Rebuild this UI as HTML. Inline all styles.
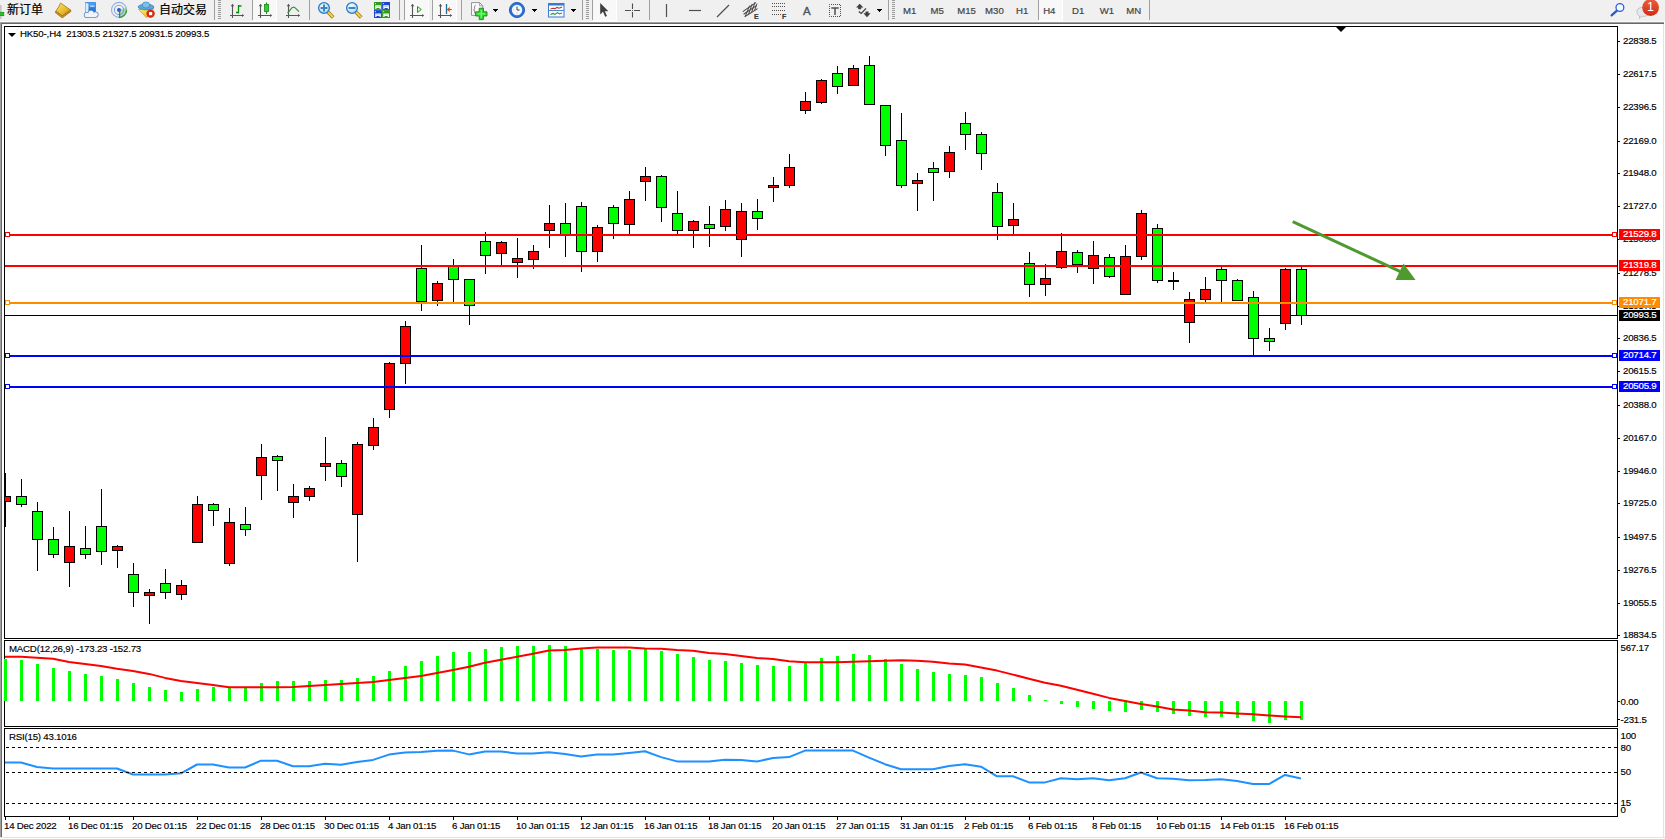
<!DOCTYPE html>
<html lang="zh"><head><meta charset="utf-8"><title>HK50-,H4</title>
<style>
html,body{margin:0;padding:0}
body{width:1665px;height:839px;overflow:hidden;background:#f0f0f0;position:relative;font-family:"Liberation Sans","Noto Sans CJK SC",sans-serif;font-size:9px;color:#000}
div,span{position:absolute;box-sizing:border-box}
.t{white-space:nowrap;line-height:10px;height:10px;font-size:9.7px;letter-spacing:-0.22px;-webkit-text-stroke:0.15px #000}
.w{width:1px;background:#000}
.cg{width:11px;background:#00ff00;border:1px solid #000}
.cr{width:11px;background:#ff0000;border:1px solid #000}
.m{width:3px;background:#00ff00}
.hl{left:5px;width:1612px;height:2px}
.sq{width:5px;height:5px;background:#fff}
.lb{left:1619px;width:41px;height:11px;color:#fff;font-size:9.2px;line-height:11px;padding-left:4px;white-space:nowrap;-webkit-text-stroke:0.2px #fff}
.tk{left:1618px;width:2px;height:1px;background:#000}
.ax{left:1623px}
.dash{left:6px;width:1611px;height:1px;background:repeating-linear-gradient(90deg,#000 0,#000 3px,transparent 3px,transparent 6px)}
.tb{font-size:9.6px;color:#444;line-height:12px;top:5px;white-space:nowrap;-webkit-text-stroke:0.2px #444}
.cn{font-size:12px;line-height:14px;color:#000;white-space:nowrap;top:2.5px;-webkit-text-stroke:0.2px #000}
.sep{top:0;width:1px;height:20px;background:#a0a0a0}
.grip{top:0;width:3px;height:19px;background:repeating-linear-gradient(180deg,#9a9a9a 0,#9a9a9a 1px,transparent 1px,transparent 2px)}
.hi{top:0;height:21px;background:#f8f8f8}
.dd{width:0;height:0;border-left:2.5px solid transparent;border-right:2.5px solid transparent;border-top:3px solid #000;top:9px}
svg{position:absolute;overflow:visible}
</style></head><body>

<div style="left:0;top:21px;width:1665px;height:1px;background:#fbfbfb"></div>
<div style="left:0;top:22px;width:1664px;height:817px;background:#a0a0a0"></div>
<div style="left:1px;top:23px;width:1663px;height:816px;background:#696969"></div>
<div style="left:1664px;top:21px;width:1px;height:818px;background:#fff"></div>
<div style="left:2px;top:24px;width:1662px;height:815px;background:#e3e3e3"></div>
<div style="left:0;top:838px;width:1665px;height:1px;background:#fff"></div>
<div style="left:0;top:837px;width:1665px;height:1px;background:#e3e3e3"></div>
<div id="white" style="left:2px;top:24px;width:1661px;height:813px;background:#fff"></div>
<div style="left:4px;top:26px;width:1614px;height:613px;border:1px solid #000"></div>
<div style="left:4px;top:640px;width:1614px;height:87px;border:1px solid #000"></div>
<div style="left:4px;top:728px;width:1614px;height:89px;border:1px solid #000"></div>
<div id="chart" style="left:5px;top:27px;width:1612px;height:611px;overflow:hidden">
<div style="left:0;top:288px;width:1612px;height:1px;background:#000"></div>
<div class="w" style="left:0px;top:446px;height:54px"></div>
<div class="cr" style="left:-5px;top:469px;height:6px"></div>
<div class="w" style="left:16px;top:452px;height:28px"></div>
<div class="cg" style="left:11px;top:469px;height:9px"></div>
<div class="w" style="left:32px;top:475px;height:69px"></div>
<div class="cg" style="left:27px;top:484px;height:29px"></div>
<div class="w" style="left:48px;top:500px;height:31px"></div>
<div class="cg" style="left:43px;top:512px;height:16px"></div>
<div class="w" style="left:64px;top:484px;height:76px"></div>
<div class="cr" style="left:59px;top:519px;height:17px"></div>
<div class="w" style="left:80px;top:499px;height:33px"></div>
<div class="cg" style="left:75px;top:521px;height:7px"></div>
<div class="w" style="left:96px;top:462px;height:76px"></div>
<div class="cg" style="left:91px;top:499px;height:26px"></div>
<div class="w" style="left:112px;top:518px;height:23px"></div>
<div class="cr" style="left:107px;top:519px;height:5px"></div>
<div class="w" style="left:128px;top:536px;height:44px"></div>
<div class="cg" style="left:123px;top:547px;height:19px"></div>
<div class="w" style="left:144px;top:562px;height:35px"></div>
<div class="cr" style="left:139px;top:565px;height:4px"></div>
<div class="w" style="left:160px;top:542px;height:30px"></div>
<div class="cg" style="left:155px;top:556px;height:10px"></div>
<div class="w" style="left:176px;top:553px;height:20px"></div>
<div class="cr" style="left:171px;top:558px;height:10px"></div>
<div class="w" style="left:192px;top:469px;height:47px"></div>
<div class="cr" style="left:187px;top:477px;height:39px"></div>
<div class="w" style="left:208px;top:476px;height:23px"></div>
<div class="cg" style="left:203px;top:477px;height:7px"></div>
<div class="w" style="left:224px;top:481px;height:58px"></div>
<div class="cr" style="left:219px;top:495px;height:42px"></div>
<div class="w" style="left:240px;top:480px;height:29px"></div>
<div class="cg" style="left:235px;top:497px;height:6px"></div>
<div class="w" style="left:256px;top:417px;height:56px"></div>
<div class="cr" style="left:251px;top:430px;height:19px"></div>
<div class="w" style="left:272px;top:428px;height:36px"></div>
<div class="cg" style="left:267px;top:429px;height:5px"></div>
<div class="w" style="left:288px;top:457px;height:34px"></div>
<div class="cr" style="left:283px;top:469px;height:7px"></div>
<div class="w" style="left:304px;top:459px;height:15px"></div>
<div class="cr" style="left:299px;top:461px;height:9px"></div>
<div class="w" style="left:320px;top:410px;height:44px"></div>
<div class="cr" style="left:315px;top:436px;height:4px"></div>
<div class="w" style="left:336px;top:433px;height:27px"></div>
<div class="cg" style="left:331px;top:436px;height:14px"></div>
<div class="w" style="left:352px;top:415px;height:120px"></div>
<div class="cr" style="left:347px;top:417px;height:71px"></div>
<div class="w" style="left:368px;top:391px;height:32px"></div>
<div class="cr" style="left:363px;top:400px;height:19px"></div>
<div class="w" style="left:384px;top:335px;height:56px"></div>
<div class="cr" style="left:379px;top:336px;height:47px"></div>
<div class="w" style="left:400px;top:294px;height:63px"></div>
<div class="cr" style="left:395px;top:299px;height:38px"></div>
<div class="w" style="left:416px;top:218px;height:66px"></div>
<div class="cg" style="left:411px;top:241px;height:34px"></div>
<div class="w" style="left:432px;top:254px;height:25px"></div>
<div class="cr" style="left:427px;top:256px;height:18px"></div>
<div class="w" style="left:448px;top:232px;height:43px"></div>
<div class="cg" style="left:443px;top:239px;height:14px"></div>
<div class="w" style="left:464px;top:252px;height:46px"></div>
<div class="cg" style="left:459px;top:252px;height:27px"></div>
<div class="w" style="left:480px;top:205px;height:42px"></div>
<div class="cg" style="left:475px;top:214px;height:15px"></div>
<div class="w" style="left:496px;top:214px;height:24px"></div>
<div class="cr" style="left:491px;top:215px;height:12px"></div>
<div class="w" style="left:512px;top:211px;height:40px"></div>
<div class="cr" style="left:507px;top:231px;height:5px"></div>
<div class="w" style="left:528px;top:218px;height:24px"></div>
<div class="cr" style="left:523px;top:224px;height:9px"></div>
<div class="w" style="left:544px;top:178px;height:43px"></div>
<div class="cr" style="left:539px;top:196px;height:8px"></div>
<div class="w" style="left:560px;top:176px;height:54px"></div>
<div class="cg" style="left:555px;top:196px;height:12px"></div>
<div class="w" style="left:576px;top:175px;height:70px"></div>
<div class="cg" style="left:571px;top:179px;height:46px"></div>
<div class="w" style="left:592px;top:198px;height:37px"></div>
<div class="cr" style="left:587px;top:200px;height:25px"></div>
<div class="w" style="left:608px;top:178px;height:34px"></div>
<div class="cg" style="left:603px;top:180px;height:17px"></div>
<div class="w" style="left:624px;top:164px;height:43px"></div>
<div class="cr" style="left:619px;top:172px;height:26px"></div>
<div class="w" style="left:640px;top:140px;height:34px"></div>
<div class="cr" style="left:635px;top:149px;height:6px"></div>
<div class="w" style="left:656px;top:148px;height:47px"></div>
<div class="cg" style="left:651px;top:149px;height:32px"></div>
<div class="w" style="left:672px;top:164px;height:43px"></div>
<div class="cg" style="left:667px;top:186px;height:18px"></div>
<div class="w" style="left:688px;top:193px;height:28px"></div>
<div class="cr" style="left:683px;top:194px;height:10px"></div>
<div class="w" style="left:704px;top:179px;height:41px"></div>
<div class="cg" style="left:699px;top:197px;height:5px"></div>
<div class="w" style="left:720px;top:173px;height:31px"></div>
<div class="cr" style="left:715px;top:182px;height:18px"></div>
<div class="w" style="left:736px;top:176px;height:54px"></div>
<div class="cr" style="left:731px;top:184px;height:29px"></div>
<div class="w" style="left:752px;top:172px;height:31px"></div>
<div class="cg" style="left:747px;top:184px;height:8px"></div>
<div class="w" style="left:768px;top:150px;height:25px"></div>
<div class="cr" style="left:763px;top:158px;height:3px"></div>
<div class="w" style="left:784px;top:127px;height:34px"></div>
<div class="cr" style="left:779px;top:140px;height:19px"></div>
<div class="w" style="left:800px;top:65px;height:22px"></div>
<div class="cr" style="left:795px;top:74px;height:10px"></div>
<div class="w" style="left:816px;top:52px;height:25px"></div>
<div class="cr" style="left:811px;top:53px;height:23px"></div>
<div class="w" style="left:832px;top:39px;height:28px"></div>
<div class="cg" style="left:827px;top:46px;height:14px"></div>
<div class="w" style="left:848px;top:38px;height:21px"></div>
<div class="cr" style="left:843px;top:41px;height:18px"></div>
<div class="w" style="left:864px;top:29px;height:49px"></div>
<div class="cg" style="left:859px;top:38px;height:40px"></div>
<div class="w" style="left:880px;top:78px;height:51px"></div>
<div class="cg" style="left:875px;top:78px;height:41px"></div>
<div class="w" style="left:896px;top:86px;height:75px"></div>
<div class="cg" style="left:891px;top:113px;height:46px"></div>
<div class="w" style="left:912px;top:146px;height:38px"></div>
<div class="cr" style="left:907px;top:153px;height:4px"></div>
<div class="w" style="left:928px;top:135px;height:39px"></div>
<div class="cg" style="left:923px;top:141px;height:5px"></div>
<div class="w" style="left:944px;top:119px;height:32px"></div>
<div class="cr" style="left:939px;top:125px;height:20px"></div>
<div class="w" style="left:960px;top:85px;height:38px"></div>
<div class="cg" style="left:955px;top:96px;height:12px"></div>
<div class="w" style="left:976px;top:105px;height:38px"></div>
<div class="cg" style="left:971px;top:107px;height:20px"></div>
<div class="w" style="left:992px;top:156px;height:57px"></div>
<div class="cg" style="left:987px;top:165px;height:35px"></div>
<div class="w" style="left:1008px;top:176px;height:31px"></div>
<div class="cr" style="left:1003px;top:192px;height:7px"></div>
<div class="w" style="left:1024px;top:225px;height:45px"></div>
<div class="cg" style="left:1019px;top:236px;height:22px"></div>
<div class="w" style="left:1040px;top:237px;height:32px"></div>
<div class="cr" style="left:1035px;top:251px;height:7px"></div>
<div class="w" style="left:1056px;top:206px;height:36px"></div>
<div class="cr" style="left:1051px;top:224px;height:17px"></div>
<div class="w" style="left:1072px;top:223px;height:23px"></div>
<div class="cg" style="left:1067px;top:225px;height:13px"></div>
<div class="w" style="left:1088px;top:214px;height:43px"></div>
<div class="cr" style="left:1083px;top:228px;height:14px"></div>
<div class="w" style="left:1104px;top:227px;height:24px"></div>
<div class="cg" style="left:1099px;top:230px;height:20px"></div>
<div class="w" style="left:1120px;top:218px;height:50px"></div>
<div class="cr" style="left:1115px;top:229px;height:39px"></div>
<div class="w" style="left:1136px;top:183px;height:50px"></div>
<div class="cr" style="left:1131px;top:186px;height:44px"></div>
<div class="w" style="left:1152px;top:197px;height:59px"></div>
<div class="cg" style="left:1147px;top:201px;height:53px"></div>
<div class="w" style="left:1168px;top:245px;height:18px"></div>
<div style="left:1163px;top:253px;width:11px;height:2px;background:#000"></div>
<div class="w" style="left:1184px;top:265px;height:51px"></div>
<div class="cr" style="left:1179px;top:272px;height:24px"></div>
<div class="w" style="left:1200px;top:250px;height:25px"></div>
<div class="cr" style="left:1195px;top:262px;height:11px"></div>
<div class="w" style="left:1216px;top:240px;height:35px"></div>
<div class="cg" style="left:1211px;top:242px;height:12px"></div>
<div class="w" style="left:1232px;top:252px;height:22px"></div>
<div class="cg" style="left:1227px;top:253px;height:21px"></div>
<div class="w" style="left:1248px;top:264px;height:64px"></div>
<div class="cg" style="left:1243px;top:270px;height:42px"></div>
<div class="w" style="left:1264px;top:301px;height:23px"></div>
<div class="cg" style="left:1259px;top:311px;height:4px"></div>
<div class="w" style="left:1280px;top:241px;height:62px"></div>
<div class="cr" style="left:1275px;top:242px;height:55px"></div>
<div class="w" style="left:1296px;top:240px;height:58px"></div>
<div class="cg" style="left:1291px;top:242px;height:47px"></div>
</div>
<div style="left:1336px;top:27px;width:0;height:0;border-left:5px solid transparent;border-right:5px solid transparent;border-top:5px solid #000"></div>
<div class="hl" style="top:234px;background:#ff0000"></div>
<div class="sq" style="left:5px;top:232px;border:1px solid #ff0000;outline:0"></div>
<div class="sq" style="left:1612px;top:232px;border:1px solid #ff0000"></div>
<div class="hl" style="top:265px;background:#ff0000"></div>
<div class="hl" style="top:302px;background:#ff8c00"></div>
<div class="sq" style="left:5px;top:300px;border:1px solid #ff8c00;outline:0"></div>
<div class="sq" style="left:1612px;top:300px;border:1px solid #ff8c00"></div>
<div class="hl" style="top:355px;background:#0000ff"></div>
<div class="sq" style="left:5px;top:353px;border:1px solid #0000ff;outline:0"></div>
<div class="sq" style="left:1612px;top:353px;border:1px solid #0000ff"></div>
<div class="hl" style="top:386px;background:#0000ff"></div>
<div class="sq" style="left:5px;top:384px;border:1px solid #0000ff;outline:0"></div>
<div class="sq" style="left:1612px;top:384px;border:1px solid #0000ff"></div>
<svg width="1665" height="839" style="left:0;top:0"><line x1="1292.7" y1="221.6" x2="1402" y2="272.4" stroke="#4e9a2e" stroke-width="3"/><polygon points="1403.5,263.5 1395.5,280 1415.6,280" fill="#4e9a2e"/></svg>
<div class="tk" style="top:41px"></div>
<div class="t ax" style="top:36px">22838.5</div>
<div class="tk" style="top:74px"></div>
<div class="t ax" style="top:69px">22617.5</div>
<div class="tk" style="top:107px"></div>
<div class="t ax" style="top:102px">22396.5</div>
<div class="tk" style="top:141px"></div>
<div class="t ax" style="top:136px">22169.0</div>
<div class="tk" style="top:173px"></div>
<div class="t ax" style="top:168px">21948.0</div>
<div class="tk" style="top:206px"></div>
<div class="t ax" style="top:201px">21727.0</div>
<div class="tk" style="top:239px"></div>
<div class="t ax" style="top:234px">21506.0</div>
<div class="tk" style="top:273px"></div>
<div class="t ax" style="top:268px">21278.5</div>
<div class="tk" style="top:306px"></div>
<div class="t ax" style="top:301px">21057.5</div>
<div class="tk" style="top:338px"></div>
<div class="t ax" style="top:333px">20836.5</div>
<div class="tk" style="top:371px"></div>
<div class="t ax" style="top:366px">20615.5</div>
<div class="tk" style="top:405px"></div>
<div class="t ax" style="top:400px">20388.0</div>
<div class="tk" style="top:438px"></div>
<div class="t ax" style="top:433px">20167.0</div>
<div class="tk" style="top:471px"></div>
<div class="t ax" style="top:466px">19946.0</div>
<div class="tk" style="top:503px"></div>
<div class="t ax" style="top:498px">19725.0</div>
<div class="tk" style="top:537px"></div>
<div class="t ax" style="top:532px">19497.5</div>
<div class="tk" style="top:570px"></div>
<div class="t ax" style="top:565px">19276.5</div>
<div class="tk" style="top:603px"></div>
<div class="t ax" style="top:598px">19055.5</div>
<div class="tk" style="top:635px"></div>
<div class="t ax" style="top:630px">18834.5</div>
<div class="lb" style="top:229px;background:#ff0000"><span class="t" style="left:4px;top:0;color:#fff;-webkit-text-stroke:0.2px #fff">21529.8</span></div>
<div class="lb" style="top:260px;background:#ff0000"><span class="t" style="left:4px;top:0;color:#fff;-webkit-text-stroke:0.2px #fff">21319.8</span></div>
<div class="lb" style="top:297px;background:#ff8c00"><span class="t" style="left:4px;top:0;color:#fff;-webkit-text-stroke:0.2px #fff">21071.7</span></div>
<div class="lb" style="top:350px;background:#0000ff"><span class="t" style="left:4px;top:0;color:#fff;-webkit-text-stroke:0.2px #fff">20714.7</span></div>
<div class="lb" style="top:381px;background:#0000ff"><span class="t" style="left:4px;top:0;color:#fff;-webkit-text-stroke:0.2px #fff">20505.9</span></div>
<div class="lb" style="top:310px;background:#000"><span class="t" style="left:4px;top:0;color:#fff;-webkit-text-stroke:0.2px #fff">20993.5</span></div>
<div style="left:8px;top:33px;width:0;height:0;border-left:4px solid transparent;border-right:4px solid transparent;border-top:4px solid #000"></div>
<div class="t" style="left:20px;top:29px;letter-spacing:-0.17px">HK50-,H4&nbsp; 21303.5 21327.5 20931.5 20993.5</div>
<div class="m" style="left:4px;top:659px;height:42px"></div>
<div class="m" style="left:20px;top:660px;height:41px"></div>
<div class="m" style="left:36px;top:664px;height:37px"></div>
<div class="m" style="left:52px;top:668px;height:33px"></div>
<div class="m" style="left:68px;top:671px;height:30px"></div>
<div class="m" style="left:84px;top:674px;height:27px"></div>
<div class="m" style="left:100px;top:676px;height:25px"></div>
<div class="m" style="left:116px;top:679px;height:22px"></div>
<div class="m" style="left:132px;top:683px;height:18px"></div>
<div class="m" style="left:148px;top:687px;height:14px"></div>
<div class="m" style="left:164px;top:690px;height:11px"></div>
<div class="m" style="left:180px;top:692px;height:9px"></div>
<div class="m" style="left:196px;top:689px;height:12px"></div>
<div class="m" style="left:212px;top:687px;height:14px"></div>
<div class="m" style="left:228px;top:687px;height:14px"></div>
<div class="m" style="left:244px;top:687px;height:14px"></div>
<div class="m" style="left:260px;top:683px;height:18px"></div>
<div class="m" style="left:276px;top:681px;height:20px"></div>
<div class="m" style="left:292px;top:681px;height:20px"></div>
<div class="m" style="left:308px;top:681px;height:20px"></div>
<div class="m" style="left:324px;top:680px;height:21px"></div>
<div class="m" style="left:340px;top:680px;height:21px"></div>
<div class="m" style="left:356px;top:678px;height:23px"></div>
<div class="m" style="left:372px;top:676px;height:25px"></div>
<div class="m" style="left:388px;top:671px;height:30px"></div>
<div class="m" style="left:404px;top:666px;height:35px"></div>
<div class="m" style="left:420px;top:661px;height:40px"></div>
<div class="m" style="left:436px;top:656px;height:45px"></div>
<div class="m" style="left:452px;top:652px;height:49px"></div>
<div class="m" style="left:468px;top:652px;height:49px"></div>
<div class="m" style="left:484px;top:649px;height:52px"></div>
<div class="m" style="left:500px;top:647px;height:54px"></div>
<div class="m" style="left:516px;top:646px;height:55px"></div>
<div class="m" style="left:532px;top:646px;height:55px"></div>
<div class="m" style="left:548px;top:645px;height:56px"></div>
<div class="m" style="left:564px;top:646px;height:55px"></div>
<div class="m" style="left:580px;top:648px;height:53px"></div>
<div class="m" style="left:596px;top:649px;height:52px"></div>
<div class="m" style="left:612px;top:650px;height:51px"></div>
<div class="m" style="left:628px;top:650px;height:51px"></div>
<div class="m" style="left:644px;top:648px;height:53px"></div>
<div class="m" style="left:660px;top:651px;height:50px"></div>
<div class="m" style="left:676px;top:654px;height:47px"></div>
<div class="m" style="left:692px;top:657px;height:44px"></div>
<div class="m" style="left:708px;top:660px;height:41px"></div>
<div class="m" style="left:724px;top:661px;height:40px"></div>
<div class="m" style="left:740px;top:663px;height:38px"></div>
<div class="m" style="left:756px;top:665px;height:36px"></div>
<div class="m" style="left:772px;top:666px;height:35px"></div>
<div class="m" style="left:788px;top:666px;height:35px"></div>
<div class="m" style="left:804px;top:662px;height:39px"></div>
<div class="m" style="left:820px;top:658px;height:43px"></div>
<div class="m" style="left:836px;top:656px;height:45px"></div>
<div class="m" style="left:852px;top:654px;height:47px"></div>
<div class="m" style="left:868px;top:655px;height:46px"></div>
<div class="m" style="left:884px;top:659px;height:42px"></div>
<div class="m" style="left:900px;top:664px;height:37px"></div>
<div class="m" style="left:916px;top:669px;height:32px"></div>
<div class="m" style="left:932px;top:672px;height:29px"></div>
<div class="m" style="left:948px;top:674px;height:27px"></div>
<div class="m" style="left:964px;top:675px;height:26px"></div>
<div class="m" style="left:980px;top:677px;height:24px"></div>
<div class="m" style="left:996px;top:683px;height:18px"></div>
<div class="m" style="left:1012px;top:688px;height:13px"></div>
<div class="m" style="left:1028px;top:695px;height:6px"></div>
<div class="m" style="left:1044px;top:700px;height:1px"></div>
<div class="m" style="left:1060px;top:701px;height:3px"></div>
<div class="m" style="left:1076px;top:701px;height:6px"></div>
<div class="m" style="left:1092px;top:701px;height:8px"></div>
<div class="m" style="left:1108px;top:701px;height:10px"></div>
<div class="m" style="left:1124px;top:701px;height:11px"></div>
<div class="m" style="left:1140px;top:701px;height:9px"></div>
<div class="m" style="left:1156px;top:701px;height:11px"></div>
<div class="m" style="left:1172px;top:701px;height:13px"></div>
<div class="m" style="left:1188px;top:701px;height:15px"></div>
<div class="m" style="left:1204px;top:701px;height:16px"></div>
<div class="m" style="left:1220px;top:701px;height:16px"></div>
<div class="m" style="left:1236px;top:701px;height:17px"></div>
<div class="m" style="left:1252px;top:701px;height:20px"></div>
<div class="m" style="left:1268px;top:701px;height:22px"></div>
<div class="m" style="left:1284px;top:701px;height:19px"></div>
<div class="m" style="left:1300px;top:701px;height:19px"></div>
<svg width="1665" height="839" style="left:0;top:0"><polyline points="5,656.7 21,656.7 37,657.7 53,658.8 69,662.0 85,664.1 101,666.1 117,668.8 133,670.9 149,673.9 165,677.9 181,681.0 197,683.0 213,685.0 229,687.3 245,687.3 261,687.3 277,687.3 293,687.0 309,686.0 325,685.0 341,684.0 357,683.0 373,682.0 389,679.9 405,677.9 421,675.9 437,672.9 453,669.9 469,666.8 485,662.8 501,659.8 517,656.7 533,653.7 549,650.4 565,649.9 581,648.4 597,647.4 613,647.4 629,647.4 645,648.4 661,648.7 677,649.9 693,650.7 709,653.0 725,654.0 741,656.0 757,658.0 773,659.0 789,661.3 805,662.3 821,662.3 837,662.3 853,661.8 869,661.3 885,660.8 901,660.3 917,660.8 933,661.8 949,663.5 965,664.6 981,667.6 997,670.6 1013,674.6 1029,678.7 1045,682.7 1061,685.7 1077,689.8 1093,693.8 1109,697.9 1125,700.9 1141,703.9 1157,706.4 1173,709.5 1189,710.5 1205,712.2 1221,712.6 1237,713.4 1253,714.3 1269,715.4 1285,716.5 1301,717.3" fill="none" stroke="#ff0000" stroke-width="2" stroke-linejoin="round"/>
<polyline points="5,762.5 21,762.5 37,767.0 53,768.5 69,768.5 85,768.5 101,768.5 117,768.5 133,774.5 149,774.5 165,774.5 181,773.3 197,764.5 213,764.5 229,767.5 245,767.5 261,760.7 277,760.7 293,766.2 309,766.2 325,763.7 341,764.7 357,761.9 373,759.9 389,754.6 405,752.6 421,752.1 437,750.8 453,750.6 469,754.4 485,751.6 501,751.6 517,753.4 533,753.4 549,752.3 565,754.1 581,756.4 597,754.6 613,754.4 629,752.9 645,751.3 661,757.1 677,761.4 693,761.4 709,761.4 725,759.7 741,759.9 757,761.4 773,758.1 789,757.1 805,750.6 821,750.6 837,750.6 853,750.6 869,757.6 885,764.2 901,769.2 917,769.2 933,769.2 949,766.0 965,764.2 981,766.7 997,776.3 1013,776.3 1029,782.4 1045,782.4 1061,778.3 1077,779.3 1093,778.3 1109,780.3 1125,778.3 1141,772.5 1157,778.3 1173,778.8 1189,780.3 1205,780.1 1221,779.3 1237,781.0 1253,784.1 1269,784.1 1285,774.9 1301,778.5" fill="none" stroke="#1e90ff" stroke-width="2" stroke-linejoin="round"/></svg>
<div class="t" style="left:9px;top:644px">MACD(12,26,9) -173.23 -152.73</div>
<div class="t" style="left:9px;top:732px">RSI(15) 43.1016</div>
<div class="dash" style="top:747px"></div>
<div class="dash" style="top:772px"></div>
<div class="dash" style="top:803px"></div>
<div class="t" style="left:1620.5px;top:643px">567.17</div>
<div class="t" style="left:1620.5px;top:697px">0.00</div>
<div class="t" style="left:1620.5px;top:715px">-231.5</div>
<div class="t" style="left:1620.5px;top:731px">100</div>
<div class="t" style="left:1620.5px;top:743px">80</div>
<div class="t" style="left:1620.5px;top:767px">50</div>
<div class="t" style="left:1620.5px;top:798px">15</div>
<div class="t" style="left:1620.5px;top:805px">0</div>
<div class="tk" style="top:701px"></div>
<div class="tk" style="top:719px"></div>
<div style="left:5px;top:817px;width:1px;height:3px;background:#000"></div>
<div class="t" style="left:4px;top:821px">14 Dec 2022</div>
<div style="left:69px;top:817px;width:1px;height:3px;background:#000"></div>
<div class="t" style="left:68px;top:821px">16 Dec 01:15</div>
<div style="left:133px;top:817px;width:1px;height:3px;background:#000"></div>
<div class="t" style="left:132px;top:821px">20 Dec 01:15</div>
<div style="left:197px;top:817px;width:1px;height:3px;background:#000"></div>
<div class="t" style="left:196px;top:821px">22 Dec 01:15</div>
<div style="left:261px;top:817px;width:1px;height:3px;background:#000"></div>
<div class="t" style="left:260px;top:821px">28 Dec 01:15</div>
<div style="left:325px;top:817px;width:1px;height:3px;background:#000"></div>
<div class="t" style="left:324px;top:821px">30 Dec 01:15</div>
<div style="left:389px;top:817px;width:1px;height:3px;background:#000"></div>
<div class="t" style="left:388px;top:821px">4 Jan 01:15</div>
<div style="left:453px;top:817px;width:1px;height:3px;background:#000"></div>
<div class="t" style="left:452px;top:821px">6 Jan 01:15</div>
<div style="left:517px;top:817px;width:1px;height:3px;background:#000"></div>
<div class="t" style="left:516px;top:821px">10 Jan 01:15</div>
<div style="left:581px;top:817px;width:1px;height:3px;background:#000"></div>
<div class="t" style="left:580px;top:821px">12 Jan 01:15</div>
<div style="left:645px;top:817px;width:1px;height:3px;background:#000"></div>
<div class="t" style="left:644px;top:821px">16 Jan 01:15</div>
<div style="left:709px;top:817px;width:1px;height:3px;background:#000"></div>
<div class="t" style="left:708px;top:821px">18 Jan 01:15</div>
<div style="left:773px;top:817px;width:1px;height:3px;background:#000"></div>
<div class="t" style="left:772px;top:821px">20 Jan 01:15</div>
<div style="left:837px;top:817px;width:1px;height:3px;background:#000"></div>
<div class="t" style="left:836px;top:821px">27 Jan 01:15</div>
<div style="left:901px;top:817px;width:1px;height:3px;background:#000"></div>
<div class="t" style="left:900px;top:821px">31 Jan 01:15</div>
<div style="left:965px;top:817px;width:1px;height:3px;background:#000"></div>
<div class="t" style="left:964px;top:821px">2 Feb 01:15</div>
<div style="left:1029px;top:817px;width:1px;height:3px;background:#000"></div>
<div class="t" style="left:1028px;top:821px">6 Feb 01:15</div>
<div style="left:1093px;top:817px;width:1px;height:3px;background:#000"></div>
<div class="t" style="left:1092px;top:821px">8 Feb 01:15</div>
<div style="left:1157px;top:817px;width:1px;height:3px;background:#000"></div>
<div class="t" style="left:1156px;top:821px">10 Feb 01:15</div>
<div style="left:1221px;top:817px;width:1px;height:3px;background:#000"></div>
<div class="t" style="left:1220px;top:821px">14 Feb 01:15</div>
<div style="left:1285px;top:817px;width:1px;height:3px;background:#000"></div>
<div class="t" style="left:1284px;top:821px">16 Feb 01:15</div>
<div class="hi" style="left:253px;width:24px;border-right:1px solid #fff;border-bottom:1px solid #fff"></div>
<div class="hi" style="left:405px;width:24px;border-right:1px solid #fff;border-bottom:1px solid #fff"></div>
<div class="hi" style="left:433px;width:24px;border-right:1px solid #fff;border-bottom:1px solid #fff"></div>
<div class="hi" style="left:593px;width:24px;border-right:1px solid #fff;border-bottom:1px solid #fff"></div>
<div class="hi" style="left:1039px;width:24px;border-right:1px solid #fff;border-bottom:1px solid #fff"></div>
<div class="sep" style="left:214px"></div>
<div class="sep" style="left:252px"></div>
<div class="sep" style="left:309px"></div>
<div class="sep" style="left:399px"></div>
<div class="sep" style="left:404px"></div>
<div class="sep" style="left:432px"></div>
<div class="sep" style="left:461px"></div>
<div class="sep" style="left:582px"></div>
<div class="sep" style="left:592px"></div>
<div class="sep" style="left:649px"></div>
<div class="sep" style="left:888px"></div>
<div class="sep" style="left:1038px"></div>
<div class="sep" style="left:1149px"></div>
<div class="grip" style="left:218px"></div>
<div class="grip" style="left:586px"></div>
<div class="grip" style="left:892px"></div>
<div class="cn" style="left:7px">新订单</div>
<div class="cn" style="left:159px">自动交易</div>
<div class="tb" style="left:903.0px">M1</div>
<div class="tb" style="left:930.5px">M5</div>
<div class="tb" style="left:957.3px">M15</div>
<div class="tb" style="left:985.1px">M30</div>
<div class="tb" style="left:1016.1px">H1</div>
<div class="tb" style="left:1043.2px">H4</div>
<div class="tb" style="left:1072.0px">D1</div>
<div class="tb" style="left:1099.8px">W1</div>
<div class="tb" style="left:1126.2px">MN</div>
<svg width="1665" height="24" viewBox="0 0 1665 24" style="left:0;top:0"><defs><linearGradient id="gold" x1="0" y1="0" x2="1" y2="1"><stop offset="0" stop-color="#fbe36a"/><stop offset="0.6" stop-color="#e8b82a"/><stop offset="1" stop-color="#b87a14"/></linearGradient><linearGradient id="blu" x1="0" y1="0" x2="0" y2="1"><stop offset="0" stop-color="#4aa8ff"/><stop offset="1" stop-color="#1460c8"/></linearGradient><radialGradient id="lens" cx="0.4" cy="0.35" r="0.7"><stop offset="0" stop-color="#f4fbff"/><stop offset="1" stop-color="#a8d4f0"/></radialGradient><linearGradient id="redg" x1="0" y1="0" x2="0" y2="1"><stop offset="0" stop-color="#e8603c"/><stop offset="1" stop-color="#d42a14"/></linearGradient><linearGradient id="ylw" x1="0" y1="0" x2="0.6" y2="1"><stop offset="0" stop-color="#fff27a"/><stop offset="1" stop-color="#f0b41c"/></linearGradient></defs><g shape-rendering="crispEdges" fill="#000"><rect x="493" y="9" width="5" height="1"/><rect x="494" y="10" width="3" height="1"/><rect x="495" y="11" width="1" height="1"/></g><g shape-rendering="crispEdges" fill="#000"><rect x="532" y="9" width="5" height="1"/><rect x="533" y="10" width="3" height="1"/><rect x="534" y="11" width="1" height="1"/></g><g shape-rendering="crispEdges" fill="#000"><rect x="571" y="9" width="5" height="1"/><rect x="572" y="10" width="3" height="1"/><rect x="573" y="11" width="1" height="1"/></g><g shape-rendering="crispEdges" fill="#000"><rect x="877" y="9" width="5" height="1"/><rect x="878" y="10" width="3" height="1"/><rect x="879" y="11" width="1" height="1"/></g><rect x="0" y="5" width="1.6" height="14" fill="#c4c4c4"/><rect x="-1" y="12.3" width="4.8" height="3.4" fill="#22c822" stroke="#168a16" stroke-width="0.7"/><path d="M55.2,12.4 L62.2,17.9 L71,11.4 L70.6,10 L62.2,15.6 L56,10.8 Z" fill="#c89228" stroke="#9a6a14" stroke-width="0.7" stroke-linejoin="round"/><path d="M56,10.8 C58,8.5 59.5,5.5 60.6,3 L70.6,10 L62.2,15.8 Z" fill="url(#gold)" stroke="#a8721a" stroke-width="0.8" stroke-linejoin="round"/><rect x="85.5" y="2.5" width="10" height="10" fill="url(#blu)" stroke="#1a6ad0" stroke-width="0.6"/><polygon points="85.5,2.5 88.5,4 88.5,13 85.5,12.5" fill="#d8ecff"/><rect x="90" y="5.5" width="4.5" height="1.2" fill="#d8ecff"/><g fill="#6c8cc4"><circle cx="86.8" cy="14.9" r="3"/><circle cx="91" cy="13.4" r="3.5"/><circle cx="95.4" cy="14.6" r="3.2"/><rect x="86" y="14" width="10" height="3.9"/></g><g fill="#f0f4fb"><circle cx="86.8" cy="14.9" r="2.2"/><circle cx="91" cy="13.4" r="2.7"/><circle cx="95.4" cy="14.6" r="2.4"/><rect x="86.4" y="14" width="9.4" height="3.1"/></g><path d="M119,9.9 L119,17.7 A7.8,7.8 0 0 0 126.6,7.6 Z" fill="#4aa84a" opacity="0.38"/><circle cx="119" cy="9.9" r="7.5" fill="none" stroke="#6e96e0" stroke-width="1.1" opacity="0.7"/><circle cx="119" cy="9.9" r="4.6" fill="none" stroke="#5a86dc" stroke-width="1.1" opacity="0.75"/><path d="M119,17.4 A7.5,7.5 0 0 0 126.5,9.9" fill="none" stroke="#3a983a" stroke-width="1.5" opacity="0.9"/><circle cx="119" cy="9.9" r="2" fill="#2a5ad0"/><rect x="118.9" y="10.4" width="1.3" height="7.5" fill="#1ea01e"/><polygon points="138.5,9.4 153.8,8.6 146.5,17.7" fill="url(#ylw)" stroke="#d49a18" stroke-width="0.7"/><ellipse cx="146" cy="7" rx="7.9" ry="2.8" fill="#5aa8dc" stroke="#2a78b8" stroke-width="0.7"/><ellipse cx="146" cy="5" rx="3.8" ry="3" fill="#7cc0ea" stroke="#2a78b8" stroke-width="0.6"/><circle cx="150.6" cy="13.6" r="4.2" fill="#d42a14"/><rect x="149" y="12" width="3.2" height="3.2" fill="#fff"/><path d="M232.5,4.4 V18 M230,15.5 H243.4" fill="none" stroke="#555" stroke-width="1.1"/><polygon points="232.5,3.8 234.3,6.2 230.7,6.2" fill="#555"/><polygon points="244.2,15.5 242,17.1 242,13.9" fill="#555"/><path d="M238.5,5 V13.5 M238.5,6 H241.5 M236,12.5 H238.5" fill="none" stroke="#0a8a0a" stroke-width="1.3"/><path d="M260.5,4.4 V18 M258,15.5 H271.4" fill="none" stroke="#555" stroke-width="1.1"/><polygon points="260.5,3.8 262.3,6.2 258.7,6.2" fill="#555"/><polygon points="272.2,15.5 270,17.1 270,13.9" fill="#555"/><path d="M266.5,2.5 V14" stroke="#1a8a1a" stroke-width="1.1"/><rect x="264.5" y="4.5" width="4" height="7" fill="#30d030" stroke="#1a8a1a" stroke-width="0.8"/><path d="M288.5,4.4 V18 M286,15.5 H299.4" fill="none" stroke="#555" stroke-width="1.1"/><polygon points="288.5,3.8 290.3,6.2 286.7,6.2" fill="#555"/><polygon points="300.2,15.5 298,17.1 298,13.9" fill="#555"/><path d="M287.5,12.8 C290,11.5 291,7.2 293.5,7.2 C295.5,7.2 297,10 299,11.5" fill="none" stroke="#2a9a2a" stroke-width="1.2"/><path d="M327.9,11.9 L333.2,17.4" stroke="#a87818" stroke-width="3.6" stroke-linecap="butt"/><path d="M327.9,11.9 L332.9,17.1" stroke="#f0d848" stroke-width="2" stroke-linecap="butt"/><circle cx="324" cy="8" r="5.4" fill="url(#lens)" stroke="#2a7ac8" stroke-width="1.3"/><path d="M320.6,8 H327.4 M324,4.6 V11.4" stroke="#3a86b8" stroke-width="2"/><path d="M355.9,11.9 L361.2,17.4" stroke="#a87818" stroke-width="3.6" stroke-linecap="butt"/><path d="M355.9,11.9 L360.9,17.1" stroke="#f0d848" stroke-width="2" stroke-linecap="butt"/><circle cx="352" cy="8" r="5.4" fill="url(#lens)" stroke="#2a7ac8" stroke-width="1.3"/><path d="M348.6,8 H355.4" stroke="#3a86b8" stroke-width="2"/><rect x="374" y="2" width="7.9" height="7.9" fill="#2e9a1e"/><path d="M375.2,9 V5.3 H380.8 V9 H379.6 V8 H376.4 V9 Z" fill="#fff"/><rect x="376.2" y="6.3" width="3.6" height="0.8" fill="#a8e090"/><rect x="375" y="3.1" width="1" height="1" fill="#fff" opacity="0.85"/><rect x="382.1" y="2" width="7.9" height="7.9" fill="#1848d0"/><path d="M383.3,9 V5.3 H388.90000000000003 V9 H387.70000000000005 V8 H384.5 V9 Z" fill="#fff"/><rect x="384.3" y="6.3" width="3.6" height="0.8" fill="#a0b8f8"/><rect x="383.1" y="3.1" width="1" height="1" fill="#fff" opacity="0.85"/><rect x="374" y="10.1" width="7.9" height="7.9" fill="#1848d0"/><path d="M375.2,17.1 V13.399999999999999 H380.8 V17.1 H379.6 V16.1 H376.4 V17.1 Z" fill="#fff"/><rect x="376.2" y="14.399999999999999" width="3.6" height="0.8" fill="#a0b8f8"/><rect x="375" y="11.2" width="1" height="1" fill="#fff" opacity="0.85"/><rect x="382.1" y="10.1" width="7.9" height="7.9" fill="#2e9a1e"/><path d="M383.3,17.1 V13.399999999999999 H388.90000000000003 V17.1 H387.70000000000005 V16.1 H384.5 V17.1 Z" fill="#fff"/><rect x="384.3" y="14.399999999999999" width="3.6" height="0.8" fill="#a8e090"/><rect x="383.1" y="11.2" width="1" height="1" fill="#fff" opacity="0.85"/><path d="M412.5,4.4 V18 M410,15.5 H423.4" fill="none" stroke="#555" stroke-width="1.1"/><polygon points="412.5,3.8 414.3,6.2 410.7,6.2" fill="#555"/><polygon points="424.2,15.5 422,17.1 422,13.9" fill="#555"/><polygon points="417.5,6.5 417.5,12.5 421.3,9.5" fill="#d8f4d8" stroke="#1ea01e" stroke-width="1"/><path d="M440.5,4.4 V18 M438,15.5 H451.4" fill="none" stroke="#555" stroke-width="1.1"/><polygon points="440.5,3.8 442.3,6.2 438.7,6.2" fill="#555"/><polygon points="452.2,15.5 450,17.1 450,13.9" fill="#555"/><path d="M446.5,4 V14" stroke="#1a6a9a" stroke-width="1.3"/><path d="M451.8,9.5 H448 M449.8,7.6 L447.6,9.5 L449.8,11.4" fill="none" stroke="#d84a10" stroke-width="1.2"/><path d="M471.5,2.6 H479.6 L482.8,5.8 V15.4 H471.5 Z" fill="#fafafa" stroke="#8a8a8a" stroke-width="0.9"/><path d="M479.6,2.6 V5.8 H482.8" fill="none" stroke="#8a8a8a" stroke-width="0.8"/><path d="M475.6,5.4 C474.2,5.6 474.6,8 474.6,8.8 C474.6,9.6 473.6,9.8 473.6,9.8 C473.6,9.8 474.6,10 474.6,10.8 C474.6,12 474.2,13.6 475.6,13.8" stroke="#6a6a5a" stroke-width="0.8" fill="none"/><path d="M479.2,8.2 H483.4 V11.8 H487 V16 H483.4 V19.6 H479.2 V16 H475.6 V11.8 H479.2 Z" fill="#30dc30" stroke="#0c7c0c" stroke-width="0.8" stroke-linejoin="miter"/><path d="M480.6,10 H482 V13.2 H485.2 V14.6 H482 V17.8 H480.6 V14.6 H477.4 V13.2 H480.6 Z" fill="#8cf88c" opacity="0.8"/><circle cx="517" cy="10" r="7.6" fill="#2a72d8" stroke="#1a4aa8" stroke-width="0.8"/><circle cx="517" cy="10" r="5.2" fill="#f4f8ff"/><path d="M517,6.5 V10 H519.6" fill="none" stroke="#404040" stroke-width="1"/><path d="M517,12.6 V13.6 M513.4,10 H514.2" stroke="#7a9ad0" stroke-width="0.8"/><rect x="548.5" y="3.5" width="15.5" height="13.5" fill="#f8fbff" stroke="#3a7ad0" stroke-width="1"/><rect x="548.5" y="3.5" width="15.5" height="2" fill="#3a7ad0"/><path d="M548.5,10.5 H564" stroke="#3a7ad0" stroke-width="0.9"/><path d="M550.5,9 L553,8.2 L555,8.6 L557,7.4 L559,8.2 L562,7" fill="none" stroke="#b83a1a" stroke-width="1.1"/><path d="M550.5,14.6 L553,13.4 L555,14.4 L557.5,12.6 L559.5,14 L562,13" fill="none" stroke="#2a9a2a" stroke-width="1.1"/><polygon points="600.2,3 600.2,14.4 603,11.8 605.2,16.8 607,16 604.8,11.2 608.4,11.2" fill="#404040"/><path d="M632.5,3.5 V9 M632.5,12 V17.5 M625,10.5 H631 M634,10.5 H640" stroke="#505050" stroke-width="1.1"/><rect x="632" y="10" width="1" height="1" fill="#505050"/><path d="M666.5,4 V17" stroke="#505050" stroke-width="1.2"/><path d="M689,10.5 H701" stroke="#505050" stroke-width="1.2"/><path d="M717,17 L729,5" stroke="#505050" stroke-width="1.2"/><path d="M742.8,11.6 L755.8,2.6 M743.6,14.2 L756.8,5.4 M744.6,16.8 L757.6,8.6" stroke="#484848" stroke-width="1.1"/><path d="M745.4,16 L749.6,5.6 M748.4,14.6 L752.2,4 M751.6,12.4 L755,2.2 M754.6,10.4 L757,3.6" stroke="#484848" stroke-width="1"/><path d="M772,3.5 H785" stroke="#505050" stroke-width="1" stroke-dasharray="1 1"/><path d="M772,6.5 H785" stroke="#505050" stroke-width="1" stroke-dasharray="1 1"/><path d="M772,10.5 H785" stroke="#505050" stroke-width="1" stroke-dasharray="1 1"/><path d="M772,14.5 H781" stroke="#505050" stroke-width="1" stroke-dasharray="1 1"/><rect x="829.5" y="4.5" width="11" height="12" fill="none" stroke="#505050" stroke-width="1" stroke-dasharray="1 1" stroke-dashoffset="0.5"/><path d="M831.3,8 H838.7 M835,8 V15" stroke="#505050" stroke-width="1.5"/><polygon points="859.7,3.8 863.4,7.4 861.2,7.4 861.2,9.2 858.2,9.2 858.2,7.4 856,7.4" fill="#404040"/><polygon points="867,17.2 863.4,13.2 865.5,13.2 865.5,11.4 868.5,11.4 868.5,13.2 870.6,13.2" fill="#404040"/><path d="M858.8,11.4 L861.2,13.4 L866,8.4" fill="none" stroke="#404040" stroke-width="1.3"/><path d="M1617.2,10.4 L1611.6,15.4" stroke="#2a56c8" stroke-width="2.2" stroke-linecap="round"/><circle cx="1619.9" cy="7.5" r="3.9" fill="#f6f8ff" stroke="#2a5fd8" stroke-width="1.3"/><path d="M1637,12.5 C1636,8 1641,7 1645,7.6 C1649,8 1650,12 1648,15 C1646,16.5 1643,16.5 1641.5,16.3 L1639.4,18.6 L1639.6,16 C1637.8,15.2 1637.2,14 1637,12.5 Z" fill="#e6e8f0" stroke="#b8b8b8" stroke-width="0.8"/><circle cx="1650.6" cy="7.5" r="8.4" fill="url(#redg)"/></svg>
<div style="left:1645.6px;top:1px;width:10px;height:13px;font-size:12.5px;line-height:13px;color:#fff;text-align:center">1</div>
<div class="tb" style="left:803px;top:4.5px;font-size:11.5px;color:#555;-webkit-text-stroke:0.4px #555">A</div>
<div class="tb" style="left:754px;top:13px;font-size:7px;line-height:7px;font-weight:bold;color:#333">E</div>
<div class="tb" style="left:782px;top:13px;font-size:7px;line-height:7px;font-weight:bold;color:#333">F</div>
</body></html>
